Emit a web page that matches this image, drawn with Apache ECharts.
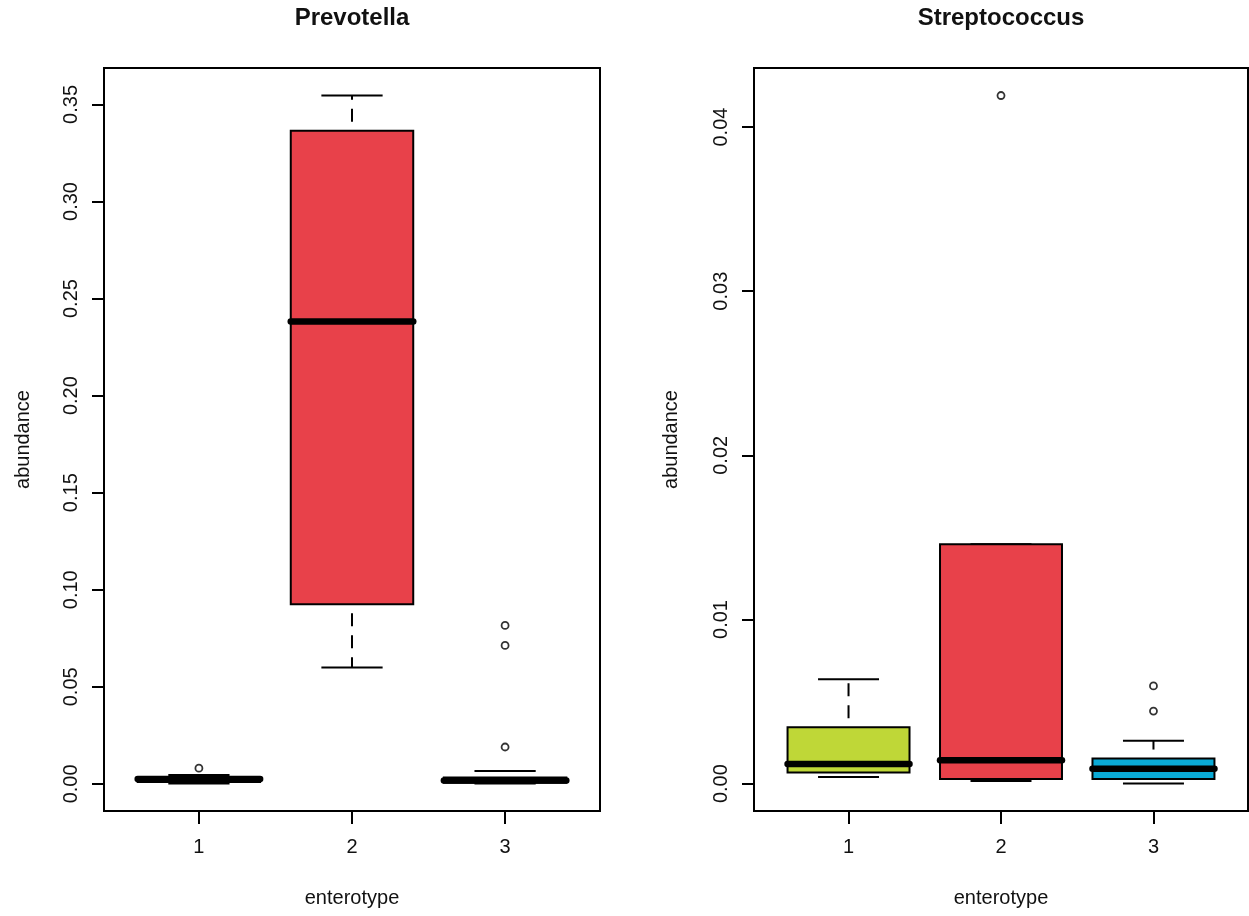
<!DOCTYPE html>
<html>
<head>
<meta charset="utf-8">
<script src="https://cdn.jsdelivr.net/npm/echarts@6/dist/echarts.min.js"></script>
<style>
html,body{margin:0;padding:0;background:#fff;}
#chart{width:1249px;height:916px;}
</style>
</head>
<body>
<div id="chart"></div>
<script>
// ---- data ----
const enterotypes = [1, 2, 3];
// [lower whisker, Q1, median, Q3, upper whisker]
const prevotellaStats = [
  [0.0002, 0.0009, 0.0025, 0.0036, 0.0046],
  [0.0600, 0.0925, 0.2382, 0.3365, 0.3546],
  [0.0002, 0.0006, 0.0018, 0.0033, 0.0066]
];
const prevotellaOutliers = [[1, 0.0081], [3, 0.0190], [3, 0.0713], [3, 0.0816]];
const streptoStats = [
  [0.00040, 0.00068, 0.00119, 0.00344, 0.00636],
  [0.00016, 0.00028, 0.00143, 0.01458, 0.01458],
  [0.00001, 0.00028, 0.00091, 0.00153, 0.00261]
];
const streptoOutliers = [[2, 0.04192], [3, 0.00595], [3, 0.00442]];
const prevotellaTicks = [0, 0.05, 0.10, 0.15, 0.20, 0.25, 0.30, 0.35];
const streptoTicks = [0, 0.01, 0.02, 0.03, 0.04];
const panelTitles = ['Prevotella', 'Streptococcus'];

// ---- styles ----
const boxColors = ['#BFD737', '#E8414A', '#0AAAD6'];
const FONT = '"Liberation Sans", Arial, Helvetica, sans-serif';

function rRange(stats, outliers) {
  const vals = stats.flat().concat(outliers.map(o => o[1]));
  const lo = Math.min(...vals), hi = Math.max(...vals);
  const pad = 0.04 * (hi - lo);
  return [lo - pad, hi + pad];
}
const xlo = 0.5 - 0.04 * 3, xhi = 3.5 + 0.04 * 3;

function boxData(stats) {
  return stats.map((s, i) => [enterotypes[i]].concat(s));
}

function renderBox(params, api) {
  const x = api.value(0);
  const v = [1, 2, 3, 4, 5].map(k => api.value(k));
  const hw = api.size([0.4, 0])[0];
  const cw = api.size([0.2, 0])[0];
  const cx = api.coord([x, v[0]])[0];
  const y = v.map(val => api.coord([x, val])[1]);
  const dash = {stroke: '#000', lineWidth: 2, lineDash: [13, 9], lineDashOffset: 13};
  const solid = {stroke: '#000', lineWidth: 2};
  return {
    type: 'group',
    children: [
      {type: 'line', shape: {x1: cx, y1: y[3], x2: cx, y2: y[4]}, style: dash},
      {type: 'line', shape: {x1: cx, y1: y[1], x2: cx, y2: y[0]}, style: dash},
      {type: 'line', shape: {x1: cx - cw, y1: y[4], x2: cx + cw, y2: y[4]}, style: solid},
      {type: 'line', shape: {x1: cx - cw, y1: y[0], x2: cx + cw, y2: y[0]}, style: solid},
      {type: 'rect', shape: {x: cx - hw, y: y[3], width: 2 * hw, height: y[1] - y[3]},
        style: {fill: boxColors[params.dataIndex], stroke: '#000', lineWidth: 2}},
      {type: 'line', shape: {x1: cx - hw, y1: y[2], x2: cx + hw, y2: y[2]},
        style: {stroke: '#000', lineWidth: 6.5, lineCap: 'round'}}
    ]
  };
}

const grids = [
  {left: 104, top: 68, width: 496, height: 743},
  {left: 754, top: 68, width: 494, height: 743}
];

function xAxisFor(i) {
  return {
    type: 'value', gridIndex: i, min: xlo, max: xhi, position: 'bottom',
    name: 'enterotype', nameLocation: 'middle', nameGap: 77,
    nameTextStyle: {fontFamily: FONT, fontSize: 20, color: '#111'},
    axisLine: {show: false, onZero: false},
    splitLine: {show: false},
    axisTick: {show: true, length: 13, customValues: enterotypes, lineStyle: {color: '#000', width: 2}},
    axisLabel: {show: true, margin: 26, customValues: enterotypes, fontFamily: FONT, fontSize: 20, color: '#111'}
  };
}
function yAxisFor(i, range, ticks, gap) {
  return {
    type: 'value', gridIndex: i, min: range[0], max: range[1], position: 'left',
    name: 'abundance', nameLocation: 'middle', nameGap: gap, nameRotate: 90,
    nameTextStyle: {fontFamily: FONT, fontSize: 20, color: '#111'},
    axisLine: {show: false, onZero: false},
    splitLine: {show: false},
    axisTick: {show: true, length: 12, customValues: ticks, lineStyle: {color: '#000', width: 2}},
    axisLabel: {show: true, margin: 23, rotate: 90, customValues: ticks,
      formatter: v => v.toFixed(2), fontFamily: FONT, fontSize: 20, color: '#111'}
  };
}

const outlierStyle = {color: '#ffffff', borderColor: '#000', borderWidth: 1.8};

const option = {
  backgroundColor: '#ffffff',
  animation: false,
  grid: grids.map(g => Object.assign({show: true, borderColor: '#000', borderWidth: 2, backgroundColor: 'transparent'}, g)),
  xAxis: [xAxisFor(0), xAxisFor(1)],
  yAxis: [
    yAxisFor(0, rRange(prevotellaStats, prevotellaOutliers), prevotellaTicks, 71),
    yAxisFor(1, rRange(streptoStats, streptoOutliers), streptoTicks, 73)
  ],
  graphic: panelTitles.map((t, i) => ({
    type: 'text', x: grids[i].left + grids[i].width / 2, y: 18,
    style: {text: t, fontFamily: FONT, fontSize: 24, fontWeight: 'bold', fill: '#111', align: 'center', verticalAlign: 'middle'}
  })),
  series: [
    {type: 'custom', xAxisIndex: 0, yAxisIndex: 0, data: boxData(prevotellaStats), renderItem: renderBox,
      encode: {x: 0, y: [1, 2, 3, 4, 5]}},
    {type: 'custom', xAxisIndex: 1, yAxisIndex: 1, data: boxData(streptoStats), renderItem: renderBox,
      encode: {x: 0, y: [1, 2, 3, 4, 5]}},
    {type: 'scatter', xAxisIndex: 0, yAxisIndex: 0, data: prevotellaOutliers, symbol: 'circle', symbolSize: 7,
      itemStyle: outlierStyle, z: 5},
    {type: 'scatter', xAxisIndex: 1, yAxisIndex: 1, data: streptoOutliers, symbol: 'circle', symbolSize: 7,
      itemStyle: outlierStyle, z: 5}
  ]
};

const chart = echarts.init(document.getElementById('chart'), null, {renderer: 'canvas'});
chart.setOption(option);
</script>
</body>
</html>
